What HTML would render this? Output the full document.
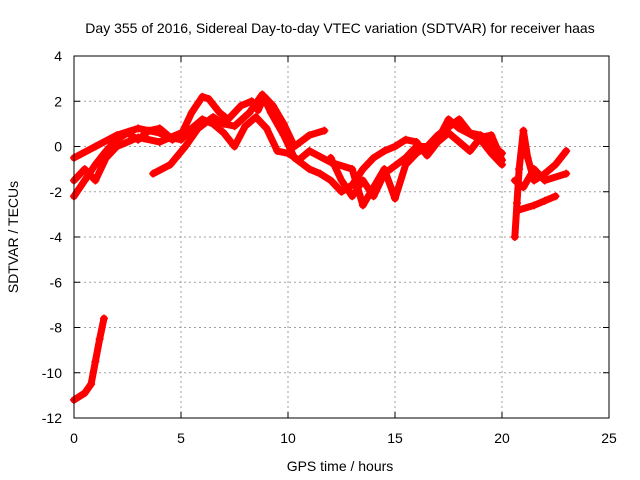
<!DOCTYPE html>
<html><head><meta charset="utf-8"><style>
body{margin:0;background:#fff}
svg{display:block;font-family:"Liberation Sans",sans-serif;font-size:14px}
</style></head><body>
<svg id="chart" width="640" height="480">
<text x="340" y="33" text-anchor="middle">Day 355 of 2016, Sidereal Day-to-day VTEC variation (SDTVAR) for receiver haas</text>
<text x="340" y="471" text-anchor="middle">GPS time / hours</text>
<text transform="translate(18,237) rotate(-90)" text-anchor="middle">SDTVAR / TECUs</text>
<g id="grid"></g><g id="ticks"></g><g id="marks"></g>
<rect x="74" y="56" width="535" height="362" fill="none" stroke="#000"/>
</svg>
<script>
const xTicks=[0,5,10,15,20,25];
const yTicks=[4,2,0,-2,-4,-6,-8,-10,-12];
const seriesA=[[0,-0.5],[1,0],[2,0.5],[3,0.8],[4,0.6],[4.6,0.3],[5,0.5],[5.5,1.5],[6,2.2],[6.3,2.1],[6.8,1.5],[7.2,1.2],[7.8,1.8],[8.3,2.0],[8.6,1.6],[8.9,2.2],[9.3,1.8],[9.8,1.0],[10.3,0],[11,0.5],[11.7,0.7]];
const seriesB=[[0,-2.2],[0.5,-1.5],[1,-0.8],[1.5,-0.2],[2,0.3],[2.5,0.6],[3,0.3],[3.5,0.7],[4,0.8],[4.5,0.4],[5,0.3],[5.5,0.8],[6,1.2],[6.5,1.0],[7,0.6],[7.5,0.0],[8,0.9],[8.5,1.3],[9,0.8],[9.5,-0.2],[10,-0.3],[10.5,-0.6],[11,-0.2],[12,-0.7],[13,-1.0],[13.5,-2.6],[14,-1.8],[14.5,-1.0],[15,-2.3],[15.5,-0.8],[16,-0.3],[17,0.3],[17.5,1.2],[18,0.8],[19,0.3],[19.5,-0.3],[20,-0.8]];
const seriesC=[[3.7,-1.2],[4.5,-0.8],[5.2,0],[5.8,0.8],[6.5,1.3],[7,1.0],[7.5,0.9],[8.2,1.5],[8.8,2.3],[9.2,1.5],[9.8,0.5],[10.3,-0.5],[11,-1.0],[11.5,-1.2],[12,-1.5],[12.5,-2.0],[13,-1.7],[13.5,-1.0],[14,-0.5],[14.5,-0.2],[15,0],[15.5,0.3],[16,0.2],[16.5,-0.4],[17,0.2],[17.5,0.6],[18,0.2],[18.5,-0.2],[19,0.4],[19.5,0.5],[20,-0.6]];
const seriesD=[[0,-1.5],[0.5,-1.0],[1,-1.5],[1.5,-0.5],[2,0],[3,0.4],[4,0.2],[5,0.6]];
const seriesE=[[12,-0.5],[12.5,-1.5],[13,-2.2],[13.5,-1.5],[14,-2.2],[14.5,-1.2],[15.5,-0.5],[16,0],[16.5,0],[17,0.5],[18,1.2],[18.5,0.6],[19,0.5],[20,-0.3]];
const seriesF=[[20.6,-4],[20.7,-2.5],[20.8,-1.0],[21,0.7],[21.2,-0.5],[21.5,-1.5],[22,-1.2],[22.5,-0.8],[23,-0.2]];
const seriesG=[[20.8,-2.8],[21.5,-2.6],[22,-2.4],[22.5,-2.2]];
const seriesH=[[20.6,-1.5],[21,-1.8],[21.5,-1.0],[22,-1.5],[23,-1.2]];
const seriesI=[[0,-11.2],[0.5,-10.9],[0.8,-10.5],[1.0,-9.5],[1.2,-8.5],[1.4,-7.6]];
const allSeries=[seriesA,seriesB,seriesC,seriesD,seriesE,seriesF,seriesG,seriesH,seriesI];
const NS="http://www.w3.org/2000/svg";
const X=h=>74+h*535/25, Y=v=>56+(4-v)*362/16;
function mk(t,a,p){const e=document.createElementNS(NS,t);for(const k in a)e.setAttribute(k,a[k]);p.appendChild(e);return e;}
const grid=document.getElementById('grid'),ticks=document.getElementById('ticks'),marks=document.getElementById('marks');
xTicks.forEach(t=>{const x=X(t);
 if(t>0&&t<25){const g=mk('line',{x1:x,x2:x,y1:56,y2:418,stroke:'#a0a0a0','stroke-dasharray':'2,3'},grid);
 
 }
 mk('line',{x1:x,x2:x,y1:418,y2:412,stroke:'#000'},ticks);mk('line',{x1:x,x2:x,y1:56,y2:62,stroke:'#000'},ticks);
 const l=mk('text',{x:x,y:443,'text-anchor':'middle'},ticks);l.textContent=t;
 
 });
yTicks.forEach(t=>{const y=Y(t);
 if(t<4&&t>-12){const g=mk('line',{x1:74,x2:609,y1:y,y2:y,stroke:'#a0a0a0','stroke-dasharray':'2,3'},grid);
 
 }
 mk('line',{x1:74,x2:80,y1:y,y2:y,stroke:'#000'},ticks);mk('line',{x1:609,x2:603,y1:y,y2:y,stroke:'#000'},ticks);
 const l=mk('text',{x:62,y:y+5,'text-anchor':'end'},ticks);l.textContent=t;
 
 });
allSeries.forEach((s,i)=>{
 const p=mk('polyline',{points:s.map(d=>X(d[0])+','+Y(d[1])).join(' '),fill:'none',stroke:'#ff0000','stroke-width':7,'stroke-linejoin':'round','stroke-linecap':'round'},marks);
 
 
 s.forEach(d=>{const x=X(d[0]),y=Y(d[1]);
  const m=mk('path',{d:`M${x-4},${y}H${x+4}M${x},${y-4}V${y+4}`,stroke:'#ff0000','stroke-width':1.5},marks);
  
  });
});
</script>
</body></html>
